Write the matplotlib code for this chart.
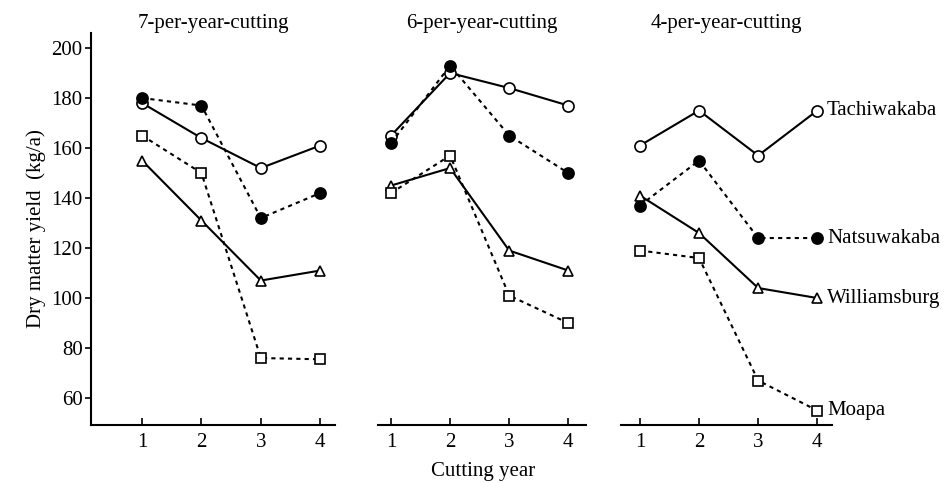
import matplotlib.pyplot as plt

plt.rcParams['font.family'] = ['Liberation Serif', 'DejaVu Serif']

years = [1, 2, 3, 4]
panel_titles = ['7-per-year-cutting', '6-per-year-cutting', '4-per-year-cutting']

# dry matter yield (kg/a) per cultivar, one list per cutting regime
tachiwakaba = [[178, 164, 152, 161], [165, 190, 184, 177], [161, 175, 157, 175]]
natsuwakaba = [[180, 177, 132, 142], [162, 193, 165, 150], [137, 155, 124, 124]]
williamsburg = [[155, 131, 107, 111], [145, 152, 119, 111], [141, 126, 104, 100]]
moapa = [[165, 150, 76, 75.5], [142, 157, 101, 90], [119, 116, 67, 55]]

cultivars = ['Tachiwakaba', 'Natsuwakaba', 'Williamsburg', 'Moapa']

styles = {
    'Tachiwakaba': dict(marker='o', ls='-', mfc='white', ms=8),
    'Natsuwakaba': dict(marker='o', ls=(0, (2, 2)), mfc='black', ms=8),
    'Williamsburg': dict(marker='^', ls='-', mfc='white', ms=7),
    'Moapa': dict(marker='s', ls=(0, (2, 2)), mfc='white', ms=6.5),
}
series = {'Tachiwakaba': tachiwakaba, 'Natsuwakaba': natsuwakaba,
          'Williamsburg': williamsburg, 'Moapa': moapa}

FS = 15

fig = plt.figure(figsize=(9.47, 4.83), dpi=100)

# axes boxes in figure fraction, plus x-limits for each panel
boxes = [(0.0961, 0.2577, (0.14, 4.25)),
         (0.3992, 0.2196, (0.78, 4.30)),
         (0.6558, 0.2228, (0.68, 4.25))]
bottom, height = 0.120, 0.8116

axes = []
for i, (left, width, xlim) in enumerate(boxes):
    ax = fig.add_axes([left, bottom, width, height])
    for name in cultivars:
        st = styles[name]
        ax.plot(years, series[name][i], color='black', lw=1.5, ls=st['ls'],
                marker=st['marker'], ms=st['ms'], mfc=st['mfc'], mec='black',
                mew=1.2, zorder=3)
    ax.set_xlim(*xlim)
    ax.set_ylim(49.2, 206)
    ax.set_xticks(years)
    ax.tick_params(axis='x', direction='in', length=5, width=1.2,
                   labelsize=FS, pad=6)
    ax.spines['top'].set_visible(False)
    ax.spines['right'].set_visible(False)
    ax.spines['bottom'].set_linewidth(1.5)
    if i == 0:
        ax.set_yticks(range(60, 201, 20))
        ax.tick_params(axis='y', direction='out', length=4, width=1.2,
                       labelsize=FS, pad=2)
        ax.spines['left'].set_linewidth(1.5)
        ax.set_ylabel('Dry matter yield  (kg/a)', fontsize=FS, labelpad=4)
    else:
        ax.spines['left'].set_visible(False)
        ax.set_yticks([])
    ax.set_title(panel_titles[i], fontsize=FS, pad=3)
    axes.append(ax)

# cultivar names next to the last point of the 4-per-year panel
last = axes[2]
for name in cultivars:
    last.annotate(name, xy=(4, series[name][2][-1]), xytext=(7, 0),
                  textcoords='offset points', va='center', ha='left',
                  fontsize=FS, annotation_clip=False)

fig.text(0.51, 0.004, 'Cutting year', ha='center', va='bottom', fontsize=FS)

fig.savefig('out.png', dpi=100)
